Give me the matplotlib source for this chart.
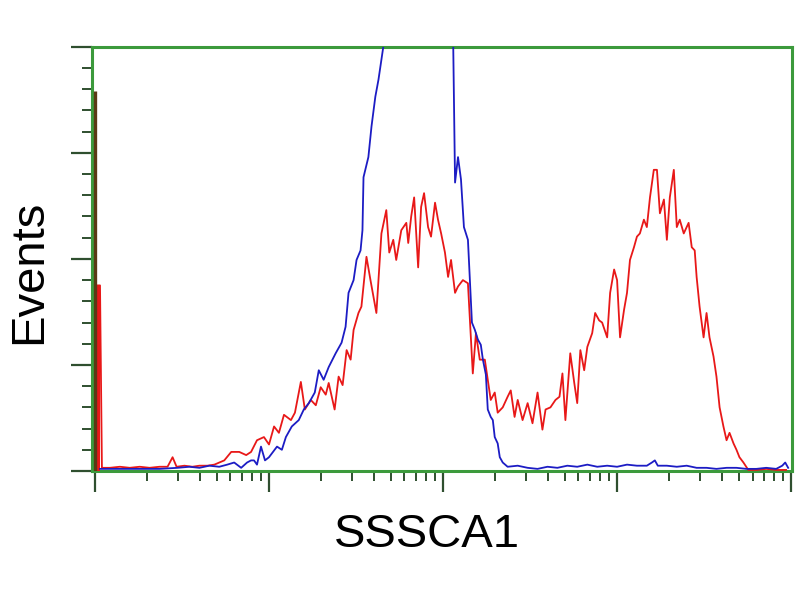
import numpy as np
import matplotlib
matplotlib.use("Agg")
import matplotlib.pyplot as plt
from matplotlib.ticker import LogLocator, MultipleLocator, NullFormatter

plt.rcParams['font.family'] = ['Liberation Sans', 'DejaVu Sans']

# fluorescence position in decades (log10), events per channel
red_log = [0.000, 0.029, 0.040, 0.086, 0.143, 0.200, 0.257, 0.314, 0.371, 0.417,
           0.446, 0.469, 0.514, 0.560, 0.600, 0.646, 0.686, 0.743, 0.783, 0.829,
           0.869, 0.897, 0.931, 0.971, 1.000, 1.029, 1.057, 1.086, 1.126, 1.149,
           1.183, 1.206, 1.240, 1.269, 1.297, 1.326, 1.343, 1.377, 1.400, 1.423,
           1.446, 1.469, 1.486, 1.514, 1.531, 1.560, 1.583, 1.617, 1.646, 1.674,
           1.691, 1.714, 1.731, 1.760, 1.789, 1.800, 1.817, 1.834, 1.857, 1.874,
           1.891, 1.914, 1.931, 1.954, 1.971, 1.989, 2.011, 2.029, 2.046, 2.069,
           2.086, 2.114, 2.143, 2.171, 2.189, 2.211, 2.240, 2.257, 2.274, 2.297,
           2.314, 2.343, 2.371, 2.389, 2.411, 2.429, 2.457, 2.486, 2.514, 2.543,
           2.571, 2.589, 2.617, 2.646, 2.669, 2.686, 2.703, 2.731, 2.754, 2.771,
           2.789, 2.811, 2.829, 2.857, 2.874, 2.897, 2.914, 2.943, 2.960, 2.983,
           3.000, 3.017, 3.040, 3.057, 3.074, 3.097, 3.114, 3.131, 3.154, 3.171,
           3.189, 3.211, 3.229, 3.246, 3.269, 3.286, 3.303, 3.326, 3.343, 3.360,
           3.383, 3.411, 3.429, 3.446, 3.457, 3.474, 3.497, 3.514, 3.531, 3.554,
           3.571, 3.589, 3.611, 3.629, 3.646, 3.669, 3.686, 3.703, 3.726, 3.754,
           3.800, 3.857, 3.914, 3.971]
red_counts = [175, 175, 3, 3, 4, 3, 4, 3, 4, 4,
              13, 4, 5, 4, 5, 5, 6, 10, 18, 18,
              15, 18, 29, 32, 25, 42, 36, 53, 48, 55,
              84, 58, 67, 62, 79, 72, 83, 58, 89, 81,
              114, 105, 133, 149, 155, 202, 180, 149, 224, 246,
              206, 218, 199, 227, 234, 215, 240, 258, 192, 249,
              262, 230, 221, 253, 237, 224, 206, 183, 199, 168,
              174, 180, 177, 92, 130, 105, 105, 86, 67, 74,
              55, 60, 70, 76, 51, 67, 48, 64, 45, 74,
              39, 58, 60, 67, 70, 92, 48, 111, 83, 64,
              114, 95, 117, 130, 149, 142, 140, 126, 168, 190,
              180, 126, 152, 168, 199, 211, 221, 224, 237, 230,
              258, 284, 284, 243, 256, 218, 258, 284, 230, 237,
              224, 234, 211, 208, 183, 155, 126, 149, 126, 108,
              89, 60, 42, 29, 36, 26, 20, 13, 8, 1,
              1, 2, 1, 1]

blue_first_bin = 358
blue_log = [0.029, 0.143, 0.257, 0.371, 0.474, 0.543, 0.600, 0.657, 0.714, 0.760,
            0.800, 0.840, 0.874, 0.897, 0.914, 0.931, 0.954, 0.977, 1.000, 1.023,
            1.046, 1.074, 1.097, 1.131, 1.171, 1.200, 1.229, 1.263, 1.286, 1.314,
            1.343, 1.383, 1.417, 1.440, 1.457, 1.486, 1.503, 1.526, 1.537, 1.543,
            1.571, 1.589, 1.611, 1.629, 1.646, 1.663, 1.714, 1.800, 1.886, 1.971,
            2.029, 2.057, 2.069, 2.086, 2.103, 2.120, 2.143, 2.166, 2.183, 2.200,
            2.217, 2.229, 2.246, 2.257, 2.274, 2.286, 2.297, 2.314, 2.326, 2.343,
            2.371, 2.429, 2.486, 2.543, 2.600, 2.657, 2.714, 2.771, 2.829, 2.886,
            2.943, 3.000, 3.057, 3.114, 3.171, 3.200, 3.217, 3.234, 3.286, 3.343,
            3.400, 3.457, 3.514, 3.571, 3.629, 3.686, 3.743, 3.800, 3.857, 3.914,
            3.949, 3.966, 3.983]
blue_counts = [2, 2, 2, 2, 3, 4, 3, 5, 4, 6,
               8, 3, 8, 10, 10, 6, 23, 10, 13, 18,
               23, 20, 32, 42, 48, 58, 64, 74, 95, 86,
               98, 111, 121, 136, 168, 180, 199, 208, 227, 277,
               296, 325, 353, 369, 388, 407, 440, 470, 480, 460,
               430, 420, 272, 296, 275, 230, 218, 140, 133, 124,
               119, 105, 91, 58, 51, 48, 32, 26, 13, 8,
               4, 5, 3, 2, 4, 3, 5, 4, 6, 4,
               5, 4, 6, 5, 5, 8, 10, 5, 5, 4,
               5, 3, 3, 2, 3, 3, 2, 2, 3, 2,
               5, 8, 3]

green = '#3c9a3c'
tick_c = '#2f4f2f'

fig = plt.figure(figsize=(8, 6), dpi=100)
ax = fig.add_axes([0.115, 0.215, 0.875, 0.707])

red_x = 10 ** np.array(red_log)
ax.plot(red_x, red_counts, color='#e81818', lw=1.3, zorder=3)
# the first channels pile up into a solid bar
ax.fill_between(red_x[:2], red_counts[:2], color='#e81818', lw=0, zorder=3)
ax.plot(10 ** np.array(blue_log), blue_counts, color='#1c1cc4', lw=1.3, zorder=4)
ax.vlines(10 ** 0.0, 0, blue_first_bin, color='#5a3a14', lw=2.4, zorder=5)

ax.set_xscale('log')
ax.set_xlim(10 ** -0.017, 10 ** 4.005)
ax.set_ylim(0, 400)

ax.xaxis.set_major_locator(LogLocator(base=10, numticks=10))
ax.xaxis.set_minor_locator(LogLocator(base=10, subs=np.arange(2, 10), numticks=20))
ax.xaxis.set_major_formatter(NullFormatter())
ax.xaxis.set_minor_formatter(NullFormatter())
ax.yaxis.set_major_locator(MultipleLocator(100))
ax.yaxis.set_minor_locator(MultipleLocator(20))
ax.yaxis.set_major_formatter(NullFormatter())

ax.tick_params(which='major', length=15, width=1.6, color=tick_c, direction='out')
ax.tick_params(which='minor', length=7, width=1.4, color=tick_c, direction='out')
ax.tick_params(top=False, right=False)

for s in ax.spines.values():
    s.set_color(green)
    s.set_linewidth(2.2)

ax.set_xlabel('SSSCA1', fontsize=34)
ax.set_ylabel('Events', fontsize=34)
ax.xaxis.set_label_coords(0.479, -0.10)
ax.yaxis.set_label_coords(-0.058, 0.47)

fig.savefig('out.png', dpi=100, facecolor='white')
